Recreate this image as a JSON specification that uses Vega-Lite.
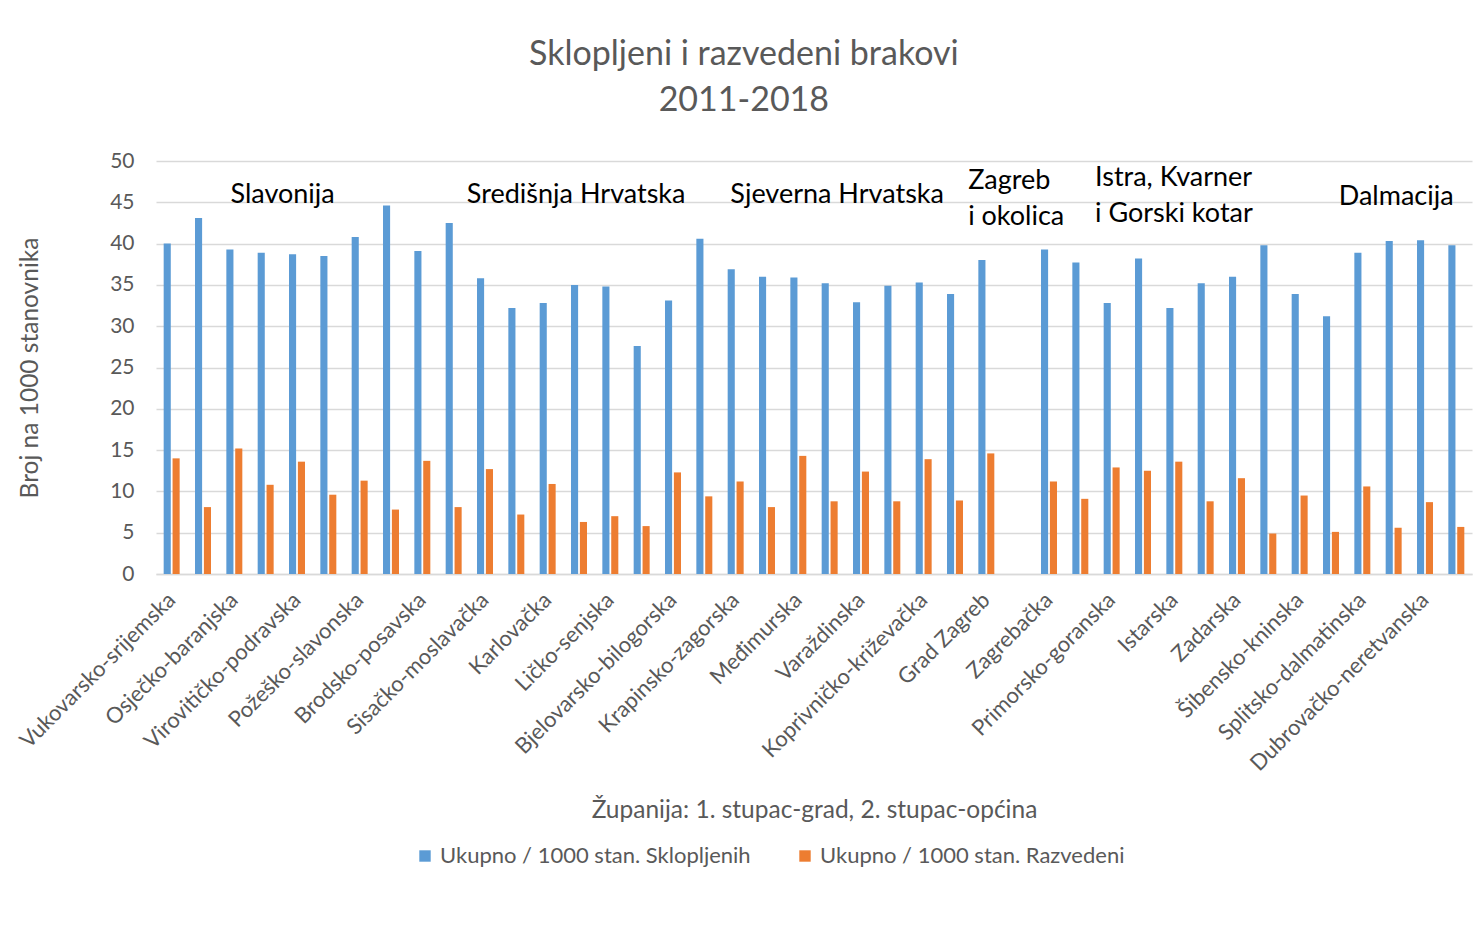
{
  "$schema": "https://vega.github.io/schema/vega-lite/v6.json",
  "width": 1316,
  "height": 413,
  "autosize": {"type": "pad"},
  "padding": {"left": 15, "top": 38, "right": 12, "bottom": 5},
  "background": "white",
  "title": {
    "text": ["Sklopljeni i razvedeni brakovi", "2011-2018"],
    "font": "Lato",
    "fontSize": 34,
    "fontWeight": "normal",
    "color": "#595959",
    "lineHeight": 46,
    "anchor": "middle",
    "frame": "bounds",
    "offset": 32
  },
  "config": {
    "font": "Lato",
    "view": {"stroke": null},
    "axis": {
      "labelFont": "Lato",
      "labelColor": "#595959",
      "titleFont": "Lato",
      "titleColor": "#595959",
      "titleFontWeight": "normal",
      "ticks": false
    }
  },
  "layer": [
    {
      "data": {
        "values": [
          {"kategorija": "Vukovarsko-srijemska, grad", "sklopljeni": 40.0, "razvedeni": 14.0},
          {"kategorija": "Vukovarsko-srijemska, općina", "sklopljeni": 43.1, "razvedeni": 8.1},
          {"kategorija": "Osječko-baranjska, grad", "sklopljeni": 39.3, "razvedeni": 15.2},
          {"kategorija": "Osječko-baranjska, općina", "sklopljeni": 38.9, "razvedeni": 10.8},
          {"kategorija": "Virovitičko-podravska, grad", "sklopljeni": 38.7, "razvedeni": 13.6},
          {"kategorija": "Virovitičko-podravska, općina", "sklopljeni": 38.5, "razvedeni": 9.6},
          {"kategorija": "Požeško-slavonska, grad", "sklopljeni": 40.8, "razvedeni": 11.3},
          {"kategorija": "Požeško-slavonska, općina", "sklopljeni": 44.6, "razvedeni": 7.8},
          {"kategorija": "Brodsko-posavska, grad", "sklopljeni": 39.1, "razvedeni": 13.7},
          {"kategorija": "Brodsko-posavska, općina", "sklopljeni": 42.5, "razvedeni": 8.1},
          {"kategorija": "Sisačko-moslavačka, grad", "sklopljeni": 35.8, "razvedeni": 12.7},
          {"kategorija": "Sisačko-moslavačka, općina", "sklopljeni": 32.2, "razvedeni": 7.2},
          {"kategorija": "Karlovačka, grad", "sklopljeni": 32.8, "razvedeni": 10.9},
          {"kategorija": "Karlovačka, općina", "sklopljeni": 35.0, "razvedeni": 6.3},
          {"kategorija": "Ličko-senjska, grad", "sklopljeni": 34.8, "razvedeni": 7.0},
          {"kategorija": "Ličko-senjska, općina", "sklopljeni": 27.6, "razvedeni": 5.8},
          {"kategorija": "Bjelovarsko-bilogorska, grad", "sklopljeni": 33.1, "razvedeni": 12.3},
          {"kategorija": "Bjelovarsko-bilogorska, općina", "sklopljeni": 40.6, "razvedeni": 9.4},
          {"kategorija": "Krapinsko-zagorska, grad", "sklopljeni": 36.9, "razvedeni": 11.2},
          {"kategorija": "Krapinsko-zagorska, općina", "sklopljeni": 36.0, "razvedeni": 8.1},
          {"kategorija": "Međimurska, grad", "sklopljeni": 35.9, "razvedeni": 14.3},
          {"kategorija": "Međimurska, općina", "sklopljeni": 35.2, "razvedeni": 8.8},
          {"kategorija": "Varaždinska, grad", "sklopljeni": 32.9, "razvedeni": 12.4},
          {"kategorija": "Varaždinska, općina", "sklopljeni": 34.9, "razvedeni": 8.8},
          {"kategorija": "Koprivničko-križevačka, grad", "sklopljeni": 35.3, "razvedeni": 13.9},
          {"kategorija": "Koprivničko-križevačka, općina", "sklopljeni": 33.9, "razvedeni": 8.9},
          {"kategorija": "Grad Zagreb, grad", "sklopljeni": 38.0, "razvedeni": 14.6},
          {"kategorija": "Grad Zagreb, općina", "sklopljeni": null, "razvedeni": null},
          {"kategorija": "Zagrebačka, grad", "sklopljeni": 39.3, "razvedeni": 11.2},
          {"kategorija": "Zagrebačka, općina", "sklopljeni": 37.7, "razvedeni": 9.1},
          {"kategorija": "Primorsko-goranska, grad", "sklopljeni": 32.8, "razvedeni": 12.9},
          {"kategorija": "Primorsko-goranska, općina", "sklopljeni": 38.2, "razvedeni": 12.5},
          {"kategorija": "Istarska, grad", "sklopljeni": 32.2, "razvedeni": 13.6},
          {"kategorija": "Istarska, općina", "sklopljeni": 35.2, "razvedeni": 8.8},
          {"kategorija": "Zadarska, grad", "sklopljeni": 36.0, "razvedeni": 11.6},
          {"kategorija": "Zadarska, općina", "sklopljeni": 39.8, "razvedeni": 4.9},
          {"kategorija": "Šibensko-kninska, grad", "sklopljeni": 33.9, "razvedeni": 9.5},
          {"kategorija": "Šibensko-kninska, općina", "sklopljeni": 31.2, "razvedeni": 5.1},
          {"kategorija": "Splitsko-dalmatinska, grad", "sklopljeni": 38.9, "razvedeni": 10.6},
          {"kategorija": "Splitsko-dalmatinska, općina", "sklopljeni": 40.3, "razvedeni": 5.6},
          {"kategorija": "Dubrovačko-neretvanska, grad", "sklopljeni": 40.4, "razvedeni": 8.7},
          {"kategorija": "Dubrovačko-neretvanska, općina", "sklopljeni": 39.8, "razvedeni": 5.7}
        ]
      },
      "transform": [{"fold": ["sklopljeni", "razvedeni"], "as": ["niz", "vrijednost"]}],
      "mark": {"type": "bar"},
      "encoding": {
        "x": {
          "field": "kategorija",
          "type": "nominal",
          "sort": null,
          "scale": {
            "domain": [
              "Vukovarsko-srijemska, grad", "Vukovarsko-srijemska, općina",
              "Osječko-baranjska, grad", "Osječko-baranjska, općina",
              "Virovitičko-podravska, grad", "Virovitičko-podravska, općina",
              "Požeško-slavonska, grad", "Požeško-slavonska, općina",
              "Brodsko-posavska, grad", "Brodsko-posavska, općina",
              "Sisačko-moslavačka, grad", "Sisačko-moslavačka, općina",
              "Karlovačka, grad", "Karlovačka, općina",
              "Ličko-senjska, grad", "Ličko-senjska, općina",
              "Bjelovarsko-bilogorska, grad", "Bjelovarsko-bilogorska, općina",
              "Krapinsko-zagorska, grad", "Krapinsko-zagorska, općina",
              "Međimurska, grad", "Međimurska, općina",
              "Varaždinska, grad", "Varaždinska, općina",
              "Koprivničko-križevačka, grad", "Koprivničko-križevačka, općina",
              "Grad Zagreb, grad", "Grad Zagreb, općina",
              "Zagrebačka, grad", "Zagrebačka, općina",
              "Primorsko-goranska, grad", "Primorsko-goranska, općina",
              "Istarska, grad", "Istarska, općina",
              "Zadarska, grad", "Zadarska, općina",
              "Šibensko-kninska, grad", "Šibensko-kninska, općina",
              "Splitsko-dalmatinska, grad", "Splitsko-dalmatinska, općina",
              "Dubrovačko-neretvanska, grad", "Dubrovačko-neretvanska, općina"
            ],
            "paddingInner": 0.49,
            "paddingOuter": 0.245
          },
          "title": "Županija: 1. stupac-grad, 2. stupac-općina",
          "axis": {
            "labelExpr": "split(datum.label, ', ')[1] == 'grad' ? split(datum.label, ', ')[0] : ''",
            "labelAngle": -45,
            "labelAlign": "right",
            "labelBaseline": "middle",
            "labelPadding": 22,
            "labelOverlap": false,
            "labelBound": false,
            "labelFontSize": 22,
            "labelLimit": 400,
            "domain": true,
            "domainColor": "#d9d9d9",
            "domainWidth": 1.5,
            "grid": false,
            "titleFontSize": 24.5,
            "titlePadding": 24
          }
        },
        "xOffset": {
          "field": "niz",
          "type": "nominal",
          "sort": ["sklopljeni", "razvedeni"],
          "scale": {"paddingInner": 0.2}
        },
        "y": {
          "field": "vrijednost",
          "type": "quantitative",
          "scale": {"domain": [0, 50], "nice": false},
          "title": "Broj na 1000 stanovnika",
          "axis": {
            "values": [0, 5, 10, 15, 20, 25, 30, 35, 40, 45, 50],
            "domain": false,
            "grid": true,
            "gridColor": "#d9d9d9",
            "gridWidth": 1.3,
            "labelFontSize": 21,
            "labelPadding": 22,
            "titleFontSize": 24.5,
            "titlePadding": 67
          }
        },
        "color": {
          "field": "niz",
          "type": "nominal",
          "scale": {"domain": ["sklopljeni", "razvedeni"], "range": ["#5B9BD5", "#ED7D31"]},
          "legend": {
            "orient": "none",
            "legendX": 258,
            "legendY": 684,
            "direction": "horizontal",
            "title": null,
            "padding": 0,
            "labelExpr": "datum.label == 'sklopljeni' ? 'Ukupno / 1000 stan. Sklopljenih' : 'Ukupno / 1000 stan. Razvedeni'",
            "symbolType": "square",
            "symbolSize": 130,
            "symbolStrokeWidth": 0,
            "labelFont": "Lato",
            "labelFontSize": 22,
            "labelColor": "#595959",
            "labelLimit": 500,
            "columnPadding": 43
          }
        }
      }
    },
    {
      "data": {
        "values": [
          {"oznaka": "Slavonija", "polozaj": 4.04, "visina": 45.9},
          {"oznaka": "Središnja Hrvatska", "polozaj": 13.41, "visina": 45.9},
          {"oznaka": "Sjeverna Hrvatska", "polozaj": 21.74, "visina": 45.9},
          {"oznaka": "Dalmacija", "polozaj": 39.58, "visina": 45.7}
        ]
      },
      "mark": {"type": "text", "font": "Lato", "fontSize": 27, "color": "#000000", "align": "center", "baseline": "middle"},
      "encoding": {
        "x": {"field": "polozaj", "type": "quantitative", "scale": {"domain": [0, 42], "nice": false, "zero": false}, "axis": null},
        "y": {"field": "visina", "type": "quantitative", "scale": {"domain": [0, 50], "nice": false}, "axis": null},
        "text": {"field": "oznaka"}
      }
    },
    {
      "data": {
        "values": [
          {"oznaka": "Zagreb\ni okolica", "polozaj": 25.92, "visina": 47.58},
          {"oznaka": "Istra, Kvarner\ni Gorski kotar", "polozaj": 29.97, "visina": 47.94}
        ]
      },
      "mark": {"type": "text", "font": "Lato", "fontSize": 27, "color": "#000000", "align": "left", "baseline": "middle", "lineBreak": "\n", "lineHeight": 36},
      "encoding": {
        "x": {"field": "polozaj", "type": "quantitative", "scale": {"domain": [0, 42], "nice": false, "zero": false}, "axis": null},
        "y": {"field": "visina", "type": "quantitative", "scale": {"domain": [0, 50], "nice": false}, "axis": null},
        "text": {"field": "oznaka"}
      }
    }
  ],
  "resolve": {"scale": {"x": "independent"}, "axis": {"x": "independent", "y": "independent"}}
}
